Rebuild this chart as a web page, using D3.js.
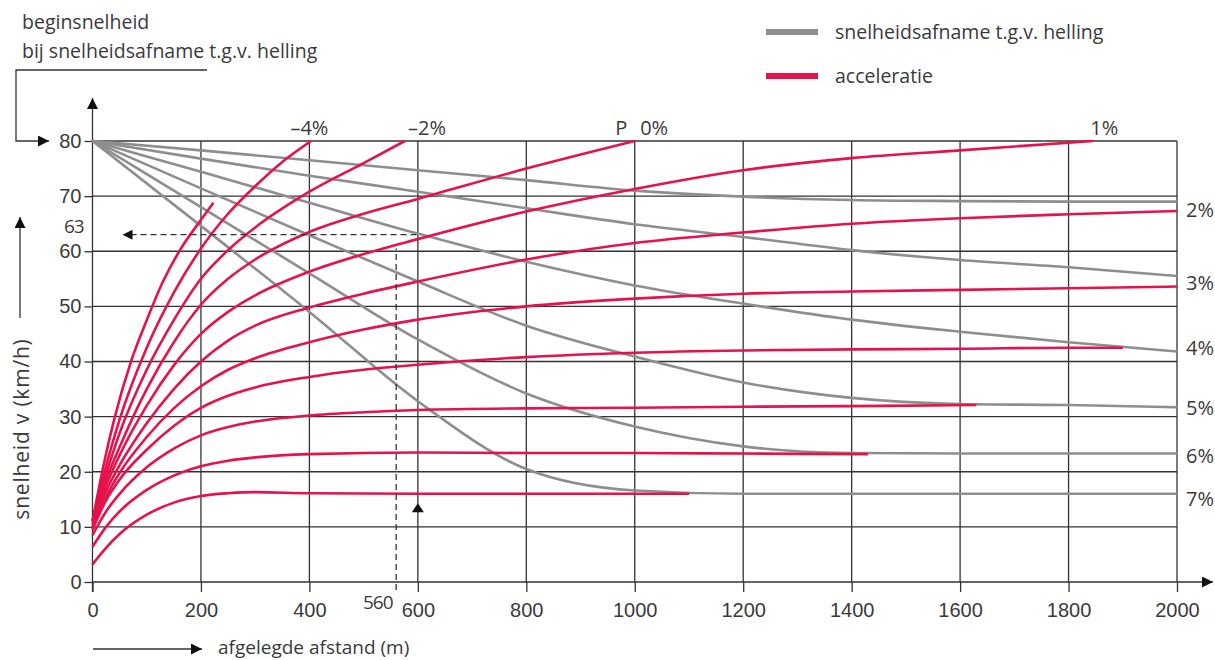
<!DOCTYPE html>
<html>
<head>
<meta charset="utf-8">
<script src="https://cdn.jsdelivr.net/npm/d3@7"></script>
<style>
  html, body { margin: 0; padding: 0; background: #fff; }
  svg { display: block; font-family: "Open Sans", "Lato", sans-serif; }
</style>
</head>
<body>
<svg id="chart" width="1215" height="660"></svg>
<script>
// ---------- DATA ----------
const xTicks = [0, 200, 400, 600, 800, 1000, 1200, 1400, 1600, 1800, 2000];
const yTicks = [0, 10, 20, 30, 40, 50, 60, 70, 80];

// acceleration curves (red): [distance m, speed km/h]
const accelSteep = [[0,11],[20,21],[40,29.5],[72,40.3],[100,47.5],[130,54.5],[160,60],[200,65.7],[223,68.8]];
const accelM4 = [[0,11],[25,21],[50,29.5],[100,42.5],[150,52.5],[200,60.5],[250,66.8],[300,71.8],[350,76.2],[403,80]];
const accelM2 = [[0,11],[25,19.5],[50,27],[100,38.5],[150,47.5],[200,55],[250,60.2],[300,64.3],[400,70.8],[500,76],[576,80]];
const accel0 = [[0,11],[25,18.5],[50,24.5],[100,35],[150,43.5],[200,50.3],[250,55],[300,58.5],[400,63.5],[500,66.8],[600,69.5],[800,75],[1000,80]];
const accel1 = [[0,11],[25,17.5],[50,23],[100,32],[150,39.3],[200,45],[250,49],[300,52],[400,56.3],[500,59.5],[600,62.2],[800,67.2],[1000,71.3],[1200,74.7],[1400,76.9],[1600,78.3],[1845,80]];
const accel2 = [[0,10.5],[25,16.5],[50,21.2],[100,28.8],[150,35],[200,40],[250,43.8],[300,46.5],[400,49.8],[500,52.3],[600,54.5],[800,58.5],[1000,61.5],[1200,63.4],[1400,65],[1600,66],[1800,66.7],[2000,67.3]];
const accel3 = [[0,10],[25,15.5],[50,19.8],[100,26.3],[150,31.5],[200,35.5],[250,38.5],[300,40.6],[400,43.5],[500,45.8],[600,47.6],[800,50],[1000,51.4],[1200,52.3],[1400,52.7],[1600,53],[1800,53.3],[2000,53.6]];
const accel4 = [[0,9.5],[25,14.8],[50,18.6],[100,24],[150,28.3],[200,31.6],[250,33.8],[300,35.3],[400,37.2],[500,38.5],[600,39.4],[800,40.8],[1000,41.6],[1200,42],[1400,42.2],[1600,42.3],[1800,42.5],[1900,42.5]];
const accel5 = [[0,8.5],[25,12.8],[50,16],[100,20.8],[150,24.2],[200,26.6],[250,28.1],[300,29.1],[400,30.2],[500,30.8],[600,31.2],[800,31.5],[1000,31.6],[1200,31.8],[1400,31.9],[1630,32.1]];
const accel6 = [[0,6.4],[25,10],[50,12.8],[100,16.7],[150,19.3],[200,21],[250,22],[300,22.6],[400,23.2],[600,23.5],[800,23.4],[1000,23.4],[1200,23.3],[1430,23.2]];
const accel7 = [[0,3.2],[25,6.2],[50,8.7],[100,12.2],[150,14.4],[200,15.6],[250,16.1],[300,16.3],[400,16.1],[600,16],[800,16],[1000,16],[1100,16]];

// deceleration curves (grey) starting at 80 km/h
const decel2 = [[0,80],[200,78.3],[400,76.5],[600,74.7],[800,72.9],[1000,71],[1200,69.9],[1400,69.3],[1600,69.1],[1800,69],[2000,69]];
const decel3 = [[0,80],[200,76.8],[400,73.7],[600,70.8],[800,67.8],[1000,64.9],[1200,62.6],[1400,60.2],[1600,58.4],[1800,57.1],[2000,55.5]];
const decel4 = [[0,80],[200,74.4],[400,68.8],[600,63.2],[800,58.1],[1000,53.8],[1200,50.5],[1400,47.6],[1600,45.4],[1800,43.5],[2000,41.8]];
const decel5 = [[0,80],[200,71.4],[400,62.9],[600,54.5],[800,46.5],[1000,40.9],[1200,36.2],[1400,33.4],[1600,32.3],[1800,32.1],[2000,31.7]];
const decel6 = [[0,80],[200,68],[400,56],[600,44],[800,34.2],[1000,28.2],[1200,24.6],[1400,23.4],[1600,23.3],[1800,23.3],[2000,23.3]];
const decel7 = [[0,80],[200,64.6],[400,49],[600,32.8],[800,20.5],[1000,16.6],[1200,16],[1400,16],[1600,16],[1800,16],[2000,16]];

const redSeries = [accelSteep, accelM4, accelM2, accel0, accel1, accel2, accel3, accel4, accel5, accel6, accel7];
const greySeries = [decel2, decel3, decel4, decel5, decel6, decel7];

// labels: [text, distance where label starts]
const topLabels = [["–4%", 365], ["–2%", 582], ["P", 964], ["0%", 1010], ["1%", 1840]];
const rightLabels = [["2%", 67.5], ["3%", 54.3], ["4%", 42.5], ["5%", 31.5], ["6%", 22.8], ["7%", 15]];
const example = { v: 63, s: 560, sEnd: 600, vTop: 60.5 };

// ---------- CHART ----------
const svg = d3.select("#chart");
const x = d3.scaleLinear().domain([0, 2000]).range([92.5, 1177]);
const y = d3.scaleLinear().domain([0, 80]).range([582, 141]);
const ink = "#333", textCol = "#3a3a3a";
const RED = "#e5124b", GREY = "#8e8e8e";
const FS = "19.5px";

const defs = svg.append("defs");
defs.append("marker").attr("id", "arr").attr("viewBox", "0 0 10 10")
  .attr("refX", 10).attr("refY", 5).attr("markerWidth", 11).attr("markerHeight", 11)
  .attr("markerUnits", "userSpaceOnUse").attr("orient", "auto")
  .append("path").attr("d", "M0,0 L10,5 L0,10 Z").attr("fill", "#111");

// grid
const g = svg.append("g");
g.selectAll(".vg").data(xTicks.filter(d => d > 0)).join("line")
  .attr("x1", d => x(d)).attr("x2", d => x(d)).attr("y1", y(0)).attr("y2", y(80))
  .attr("stroke", ink).attr("stroke-width", 1.3);
g.selectAll(".hg").data(yTicks.filter(d => d > 0)).join("line")
  .attr("x1", x(0)).attr("x2", x(2000)).attr("y1", d => y(d)).attr("y2", d => y(d))
  .attr("stroke", ink).attr("stroke-width", 1.3);

// axes via d3
const xAxis = d3.axisBottom(x).tickValues(xTicks).tickSize(10).tickPadding(8).tickFormat(d3.format("d"));
const yAxis = d3.axisLeft(y).tickValues(yTicks).tickSize(8).tickPadding(3);
const gx = svg.append("g").attr("transform", `translate(0,${y(0)})`).call(xAxis);
const gy = svg.append("g").attr("transform", `translate(${x(0)},0)`).call(yAxis);
[gx, gy].forEach(a => {
  a.select(".domain").remove();
  a.selectAll(".tick line").attr("stroke", ink).attr("stroke-width", 1.3);
  a.selectAll(".tick text").attr("fill", textCol).style("font-size", "20px");
});
gx.selectAll(".tick text").attr("dy", "0.85em");

// axis lines with arrows
svg.append("line").attr("x1", x(0)).attr("x2", 1213).attr("y1", y(0)).attr("y2", y(0))
  .attr("stroke", ink).attr("stroke-width", 1.3).attr("marker-end", "url(#arr)");
svg.append("line").attr("x1", x(0)).attr("x2", x(0)).attr("y1", y(0) + 10).attr("y2", 98)
  .attr("stroke", ink).attr("stroke-width", 1.3).attr("marker-end", "url(#arr)");

// curves
const line = d3.line().x(d => x(d[0])).y(d => y(d[1])).curve(d3.curveMonotoneX);
svg.append("g").selectAll("path").data(greySeries).join("path")
  .attr("d", line).attr("fill", "none").attr("stroke", GREY).attr("stroke-width", 2.6);
svg.append("g").selectAll("path").data(redSeries).join("path")
  .attr("d", line).attr("fill", "none").attr("stroke", RED).attr("stroke-width", 2.6);

// example dashed lines
svg.append("line").attr("x1", x(0) + 38).attr("x2", x(example.sEnd)).attr("y1", y(example.v)).attr("y2", y(example.v))
  .attr("stroke", "#333").attr("stroke-width", 1.3).attr("stroke-dasharray", "6,4");
svg.append("path").attr("d", `M${x(0)+30},${y(example.v)} l10,-5 l0,10 Z`).attr("fill", "#111");
svg.append("line").attr("x1", x(example.s)).attr("x2", x(example.s)).attr("y1", y(0) + 8).attr("y2", y(example.vTop))
  .attr("stroke", "#333").attr("stroke-width", 1.3).attr("stroke-dasharray", "6,4");
// arrow at 600 pointing up
svg.append("path").attr("d", `M${x(600)},${y(14.3)} l-6,9 l12,0 Z`).attr("fill", "#111");

// annotation labels
svg.append("text").attr("x", 64).attr("y", 233).attr("fill", textCol).style("font-size", "19px").style("letter-spacing", "-1px").text("63");
svg.append("text").attr("x", 363).attr("y", 609).attr("fill", textCol).style("font-size", "19px").style("letter-spacing", "-1px").text("560");

// top labels
svg.append("g").selectAll("text").data(topLabels).join("text")
  .attr("x", d => x(d[1])).attr("y", 135).attr("fill", textCol).style("font-size", "20px")
  .text(d => d[0]);

// right labels
svg.append("g").selectAll("text").data(rightLabels).join("text")
  .attr("x", 1186).attr("y", d => y(d[1]) + 7).attr("fill", textCol).style("font-size", "20px")
  .text(d => d[0]);

// y-axis title with arrow
svg.append("text").attr("transform", "translate(29,429) rotate(-90)").attr("text-anchor", "middle")
  .attr("fill", textCol).style("font-size", "21px").style("letter-spacing", "0.8px").text("snelheid v (km/h)");
svg.append("line").attr("x1", 20).attr("x2", 20).attr("y1", 318).attr("y2", 217)
  .attr("stroke", ink).attr("stroke-width", 1.3).attr("marker-end", "url(#arr)");

// x-axis title with arrow
svg.append("line").attr("x1", 93).attr("x2", 202).attr("y1", 649).attr("y2", 649)
  .attr("stroke", ink).attr("stroke-width", 1.3).attr("marker-end", "url(#arr)");
svg.append("text").attr("x", 218).attr("y", 654).attr("fill", textCol).style("font-size", "19px").text("afgelegde afstand (m)");

// top-left note with bracket arrow
svg.append("text").attr("x", 22).attr("y", 29).attr("fill", textCol).style("font-size", FS).text("beginsnelheid");
svg.append("text").attr("x", 22).attr("y", 58).attr("fill", textCol).style("font-size", FS).text("bij snelheidsafname t.g.v. helling");
svg.append("path").attr("d", `M207,70 L16,70 L16,${y(80)} L49,${y(80)}`).attr("fill", "none")
  .attr("stroke", ink).attr("stroke-width", 1.3).attr("marker-end", "url(#arr)");

// legend
const legend = [["snelheidsafname t.g.v. helling", GREY, 32], ["acceleratie", RED, 76]];
const lg = svg.append("g");
lg.selectAll("line").data(legend).join("line")
  .attr("x1", 766).attr("x2", 818).attr("y1", d => d[2]).attr("y2", d => d[2])
  .attr("stroke", d => d[1]).attr("stroke-width", 6);
lg.selectAll("text").data(legend).join("text")
  .attr("x", 835).attr("y", d => d[2] + 7).attr("fill", textCol).style("font-size", FS).text(d => d[0]);
</script>
</body>
</html>
